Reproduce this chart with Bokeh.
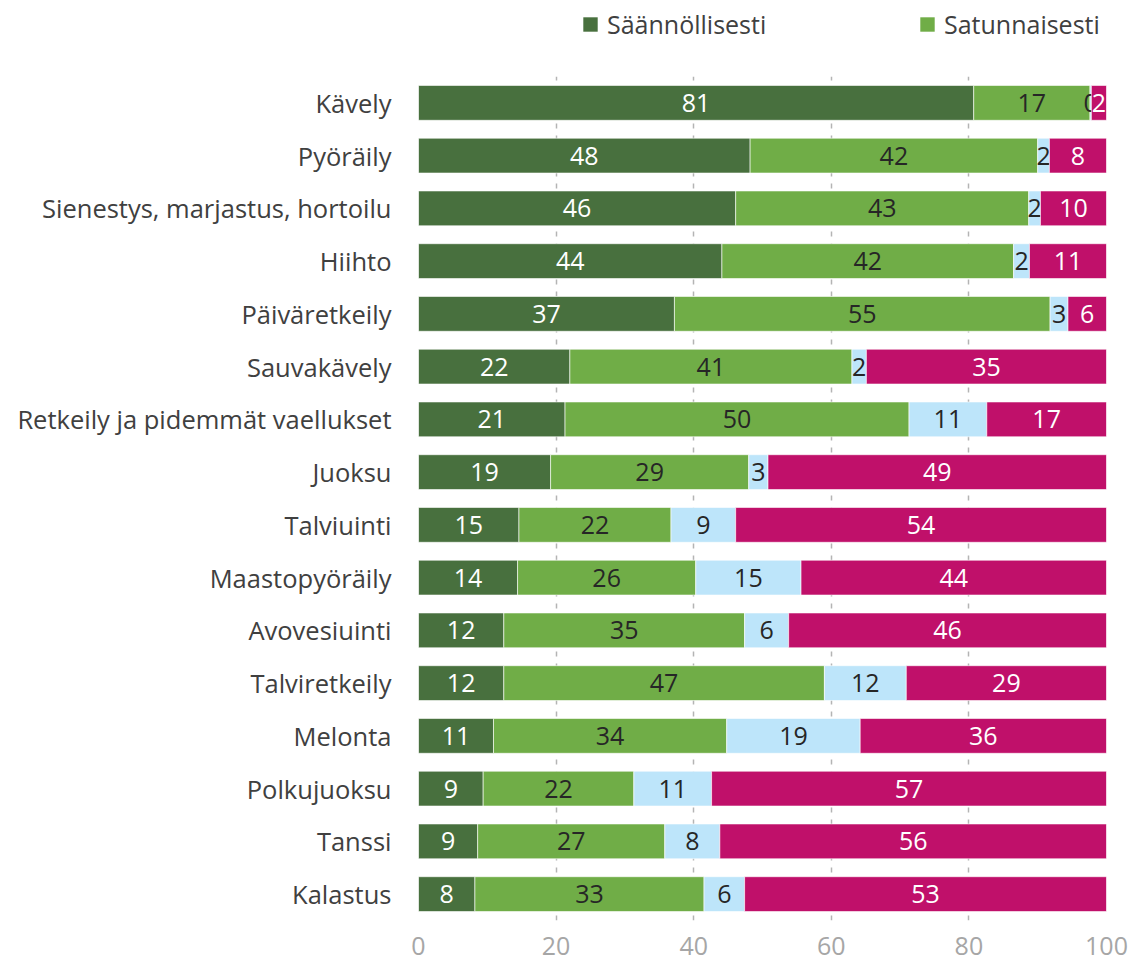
from bokeh.plotting import figure
from bokeh.layouts import column
from bokeh.models import ColumnDataSource, Range1d, FactorRange, Legend, LegendItem, FixedTicker
from bokeh.core.properties import value
from bokeh.embed import file_html
from bokeh.resources import INLINE

categories = ["Kävely", "Pyöräily", "Sienestys, marjastus, hortoilu", "Hiihto",
              "Päiväretkeily", "Sauvakävely", "Retkeily ja pidemmät vaellukset",
              "Juoksu", "Talviuinti", "Maastopyöräily", "Avovesiuinti",
              "Talviretkeily", "Melonta", "Polkujuoksu", "Tanssi", "Kalastus"]
saannollisesti = [80.7, 48.2, 46.1, 44.1, 37.2, 22.0, 21.3, 19.2, 14.6, 14.4, 12.4, 12.4, 10.9, 9.4, 8.6, 8.2]
satunnaisesti = [16.9, 41.8, 42.6, 42.4, 54.6, 41.0, 50.0, 28.8, 22.1, 25.9, 35.0, 46.6, 33.9, 21.9, 27.2, 33.3]
sarja3 = [0.2, 1.7, 1.7, 2.3, 2.6, 2.1, 11.3, 2.8, 9.4, 15.3, 6.4, 11.9, 19.4, 11.3, 8.0, 5.9]
sarja4 = [2.2, 8.3, 9.6, 11.2, 5.6, 34.9, 17.4, 49.2, 53.9, 44.4, 46.2, 29.1, 35.8, 57.4, 56.2, 52.6]
series_names = ["Säännöllisesti", "Satunnaisesti", "sarja3", "sarja4"]
x_ticks = [0, 20, 40, 60, 80, 100]

colors = ["#48703e", "#70ad47", "#bde5fa", "#c0106a"]
label_colors = ["#ffffff", "#262626", "#262626", "#ffffff"]
FONT = "Open Sans"
FS = "25px"

# ---- main chart ----
p = figure(width=1130, height=891,
           y_range=FactorRange(factors=categories[::-1], range_padding=0),
           x_range=Range1d(0, 100),
           output_backend="svg", toolbar_location=None,
           min_border_left=418, min_border_right=24,
           min_border_top=0, min_border_bottom=47)
p.outline_line_color = None
p.background_fill_color = "white"
p.border_fill_color = "white"

p.ygrid.grid_line_color = None
p.xgrid.ticker = FixedTicker(ticks=x_ticks)
p.xgrid.grid_line_color = "#b4b4b4"
p.xgrid.grid_line_dash = "5 7"
p.xgrid.grid_line_width = 1.5

series = [saannollisesti, satunnaisesti, sarja3, sarja4]
lefts = [0.0] * len(categories)
for vals, col, lcol in zip(series, colors, label_colors):
    rights = [l + v for l, v in zip(lefts, vals)]
    src = ColumnDataSource(dict(
        y=categories, left=lefts, right=rights,
        xm=[(l + r) / 2 for l, r in zip(lefts, rights)],
        lab=[str(int(v + 0.5)) for v in vals],
    ))
    p.hbar(y="y", left="left", right="right", height=0.66, source=src,
           fill_color=col, line_color="white", line_alpha=0.6, line_width=1)
    p.text(x="xm", y="y", text="lab", source=src, text_align="center",
           text_baseline="middle", text_color=lcol,
           text_font=value(FONT), text_font_size=FS)
    lefts = rights

p.yaxis.axis_line_color = None
p.yaxis.major_tick_line_color = None
p.yaxis.minor_tick_line_color = None
p.yaxis.major_label_text_font = FONT
p.yaxis.major_label_text_font_size = "25.5px"
p.yaxis.major_label_text_color = "#404040"
p.yaxis.major_label_standoff = 21

p.xaxis.ticker = FixedTicker(ticks=x_ticks)
p.xaxis.axis_line_color = None
p.xaxis.major_tick_line_color = None
p.xaxis.minor_tick_line_color = None
p.xaxis.major_label_text_font = FONT
p.xaxis.major_label_text_font_size = FS
p.xaxis.major_label_text_color = "#a6a6a6"
p.xaxis.major_label_standoff = 10

# ---- legend strip (proxy bars lie outside its visible range) ----
lg = figure(width=1130, height=76, x_range=Range1d(0, 100), y_range=Range1d(0, 1),
            output_backend="svg", toolbar_location=None,
            min_border_left=0, min_border_right=0, min_border_top=0, min_border_bottom=0)
lg.axis.visible = False
lg.grid.visible = False
lg.outline_line_color = None
lg.border_fill_color = "white"
legend_renderers = []
for col, vals in zip(colors[:2], series[:2]):
    src = ColumnDataSource(dict(y=[-10], left=[0], right=[vals[0]]))
    legend_renderers.append(lg.hbar(y="y", left="left", right="right", height=0.66,
                                    source=src, fill_color=col, line_color=None))
legend = Legend(items=[LegendItem(label=series_names[0], renderers=[legend_renderers[0]]),
                       LegendItem(label=series_names[1], renderers=[legend_renderers[1]])],
                orientation="horizontal", location=(163, 35))
legend.border_line_color = None
legend.background_fill_alpha = 0
legend.padding = 0
legend.margin = 0
legend.glyph_width = 18
legend.glyph_height = 18
legend.label_standoff = 8
legend.label_width = 163
legend.spacing = 148
legend.label_text_font = FONT
legend.label_text_font_size = FS
legend.label_text_color = "#404040"
lg.add_layout(legend, "center")

layout = column(lg, p, spacing=0)
open("out.html", "w").write(file_html(layout, INLINE))
